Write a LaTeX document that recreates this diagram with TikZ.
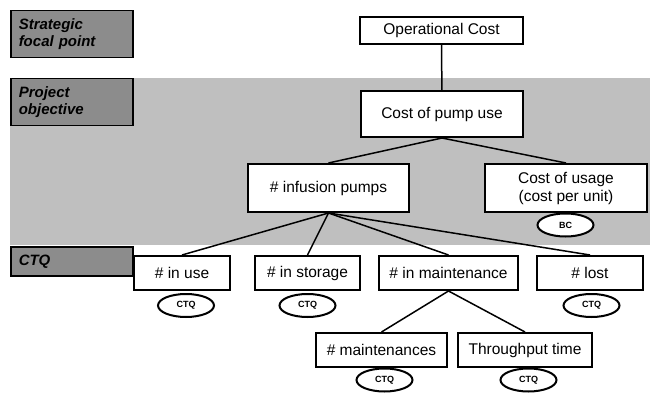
\documentclass[tikz,border=0pt]{standalone}
\usepackage{fontspec}
\setmainfont{Liberation Sans}
\usetikzlibrary{shapes.geometric}
\begin{document}
\begin{tikzpicture}[x=1pt,y=-1pt]
        \tikzstyle{level}=[draw=black,line width=1.5pt,fill=black!45,anchor=north west,minimum width=122pt,align=left,text width=106pt,inner sep=8pt,font=\fontsize{15}{17}\selectfont\bfseries\itshape]
        \tikzstyle{item}=[rectangle,draw=black,line width=2pt,fill=white,minimum height=34pt,font=\fontsize{15.5}{18}\selectfont]
        \tikzstyle{tag}=[ellipse,draw=black,line width=2pt,fill=white,minimum width=56pt,minimum height=23pt,inner sep=0pt,font=\fontsize{9}{10}\selectfont\bfseries]
        \tikzstyle{edge}=[draw,line width=1.5pt]
        \useasboundingbox (0,0) rectangle (650,393);
        % shaded band
        \fill[black!25] (10,78) rectangle (650,245);
        % levels
        \node [level,minimum height=44pt] (lsfp) at (10,10) {Strategic\\focal point};
        \node [level,minimum height=45pt] (lpo) at (10,78) {Project\\objective};
        \node [level,minimum height=29pt,inner ysep=6pt] (lctq) at (10,246) {CTQ};
        % tree
        \node [item,minimum width=163pt,minimum height=27pt] (oc) at (441.5,30.5) {Operational Cost};
        \node [item,minimum width=162pt,minimum height=46pt] (cpu) at (442,114) {Cost of pump use};
        \node [item,minimum width=161pt,minimum height=48pt] (ip) at (328.5,188) {\# infusion pumps};
        \node [item,minimum width=162pt,minimum height=48pt,align=center] (cu) at (566,188) {Cost of usage\\(cost per unit)};
        \node [item,minimum width=96pt] (inuse) at (182,273) {\# in use};
        \node [item,minimum width=105pt] (instor) at (307.5,273) {\# in storage};
        \node [item,minimum width=139pt] (inmaint) at (448.5,273) {\# in maintenance};
        \node [item,minimum width=106pt] (lost) at (590,273) {\# lost};
        \node [item,minimum width=131pt] (maints) at (381.5,350) {\# maintenances};
        \node [item,minimum width=134pt] (tput) at (525,350) {Throughput time};
        \node [tag] (bc) at (565.5,225) {BC};
        \node [tag] (ctqa) at (186,305.5) {CTQ};
        \node [tag] (ctqb) at (307.5,305.5) {CTQ};
        \node [tag] (ctqc) at (591.5,305.5) {CTQ};
        \node [tag] (ctqd) at (384.5,380) {CTQ};
        \node [tag] (ctqe) at (528.5,380) {CTQ};
        \path[edge] (oc) -- (cpu);
        \path[edge] (cpu.south) -- (ip.north);
        \path[edge] (cpu.south) -- (cu.north);
        \path[edge] (ip.south) -- (inuse.north);
        \path[edge] (ip.south) -- (instor.north);
        \path[edge] (ip.south) -- (inmaint.north);
        \path[edge] (ip.south) -- (lost.north);
        \path[edge] (inmaint.south) -- (maints.north);
        \path[edge] (inmaint.south) -- (tput.north);
\end{tikzpicture}
\end{document}
